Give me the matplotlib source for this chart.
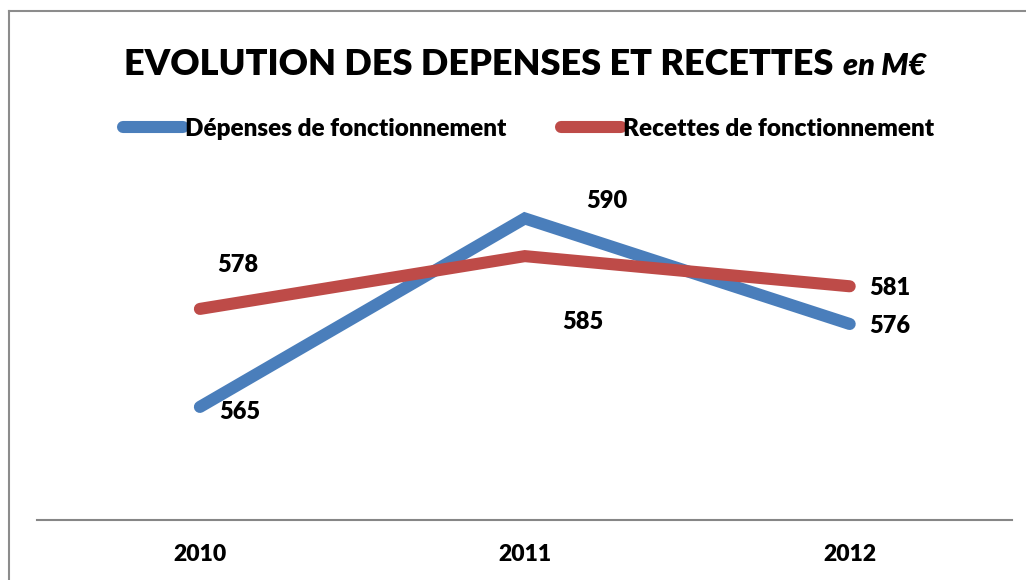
import matplotlib.pyplot as plt
from matplotlib.lines import Line2D

# data
years = ['2010', '2011', '2012']
depenses = [565, 590, 576]
recettes = [578, 585, 581]

blue = '#4A7EBB'
red = '#BE4B48'
plt.rcParams['font.family'] = ['Lato', 'DejaVu Sans']

fig = plt.figure(figsize=(10.26, 5.8), dpi=100)
ax = fig.add_axes([0.0365, 0.1034, 0.950, 0.65])

x = range(len(years))
ax.plot(x, depenses, color=blue, lw=8.7, solid_capstyle='round',
        solid_joinstyle='miter', label='Dépenses de fonctionnement')
ax.plot(x, recettes, color=red, lw=8.7, solid_capstyle='round',
        solid_joinstyle='miter', label='Recettes de fonctionnement')

# data labels, offsets in pixels like the Excel original
dep_off = [(40, -5), (82, 17), (40, -2)]
rec_off = [(38, 44), (58, -66), (40, -2)]
for i in x:
    ax.annotate(str(depenses[i]), (i, depenses[i]), xytext=dep_off[i],
                textcoords='offset pixels', ha='center', va='center',
                fontsize=17, fontweight='heavy')
    ax.annotate(str(recettes[i]), (i, recettes[i]), xytext=rec_off[i],
                textcoords='offset pixels', ha='center', va='center',
                fontsize=17, fontweight='heavy')

ax.set_xlim(-0.5, 2.5)
ax.set_ylim(550, 600)
ax.set_xticks(list(x))
ax.set_xticklabels(years, fontsize=16.5, fontweight='heavy')
ax.tick_params(axis='x', length=0, pad=17.5)
ax.set_yticks([])
for s in ['top', 'right', 'left']:
    ax.spines[s].set_visible(False)
ax.spines['bottom'].set_color('#868686')
ax.spines['bottom'].set_linewidth(1.5)

# title in two styles
fig.text(0.812, 0.871, 'EVOLUTION DES DEPENSES ET RECETTES', ha='right',
         va='baseline', fontsize=26, fontweight='heavy')
fig.text(0.822, 0.871, 'en M€', ha='left', va='baseline', fontsize=22,
         fontweight='heavy', style='italic')

fig.legend(loc='center', bbox_to_anchor=(0.515, 0.778), ncol=2, frameon=False,
           prop={'size': 17.5, 'weight': 'heavy'}, handlelength=2.47,
           handletextpad=0.08, columnspacing=2.26)

# chart border (top and left visible)
fig.add_artist(Line2D([9 / 1026, 1.0], [1 - 11 / 580] * 2, color='#8c8c8c', lw=1.5))
fig.add_artist(Line2D([9 / 1026] * 2, [0, 1 - 11 / 580], color='#8c8c8c', lw=1.5))

fig.savefig('out.png', dpi=100)
